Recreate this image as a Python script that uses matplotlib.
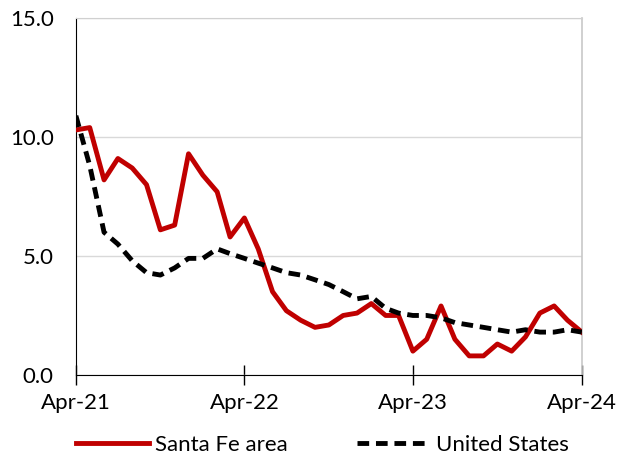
import matplotlib
matplotlib.use("Agg")
import matplotlib.pyplot as plt
import matplotlib.dates as mdates
import pandas as pd

months = pd.date_range("2021-04-01", "2024-04-01", freq="MS")

santa_fe = [10.3, 10.4, 8.2, 9.1, 8.7, 8.0, 6.1, 6.3, 9.3, 8.4, 7.7, 5.8,
            6.6, 5.3, 3.5, 2.7, 2.3, 2.0, 2.1, 2.5, 2.6, 3.0, 2.5, 2.5,
            1.0, 1.5, 2.9, 1.5, 0.8, 0.8, 1.3, 1.0, 1.6, 2.6, 2.9, 2.3,
            1.8]
united_states = [10.9, 8.8, 6.0, 5.5, 4.8, 4.3, 4.2, 4.5, 4.9, 4.9, 5.3, 5.1,
                 4.9, 4.7, 4.5, 4.3, 4.2, 4.0, 3.8, 3.5, 3.2, 3.3, 2.8, 2.6,
                 2.5, 2.5, 2.4, 2.2, 2.1, 2.0, 1.9, 1.8, 1.9, 1.8, 1.8, 1.9,
                 1.8]

y_ticks = [0, 5, 10, 15]
x_ticks = pd.to_datetime(["2021-04-01", "2022-04-01", "2023-04-01", "2024-04-01"])

plt.rcParams["font.family"] = ["Lato", "DejaVu Sans"]

fig = plt.figure(figsize=(6.17, 4.55), dpi=100)
ax = fig.add_axes([0.123, 0.176, 0.820, 0.784])

ax.plot(months, santa_fe, color="#c00000", lw=3.5, label="Santa Fe area", zorder=3)
ax.plot(months, united_states, color="black", lw=3.5, ls=(0, (2.4, 1.4)),
        label="United States", zorder=4)

ax.set_ylim(0, 15)
ax.set_yticks(y_ticks)
ax.set_yticklabels([f"{v:.1f}" for v in y_ticks])
ax.set_xlim(months[0], months[-1])
ax.set_xticks(x_ticks)
ax.xaxis.set_major_formatter(mdates.DateFormatter("%b-%y"))

# light gray plot-area border on top/right, black axes on left/bottom
ax.grid(axis="y", color="#d9d9d9", lw=1)
ax.set_axisbelow(True)
ax.spines["top"].set_color("#d0d0d0")
ax.spines["right"].set_color("#c8c8c8")
ax.spines["right"].set_linewidth(1.2)
ax.spines["left"].set_color("black")
ax.spines["bottom"].set_color("black")
ax.tick_params(axis="y", length=0, labelsize=16, pad=16)
ax.tick_params(axis="x", direction="inout", length=14, width=1, labelsize=16, pad=6)

ax.legend(loc="center", bbox_to_anchor=(0.487, -0.196), ncol=2, frameon=False,
          fontsize=16, handlelength=3.3, handletextpad=0.25, columnspacing=3.1)

fig.savefig("out.png", dpi=100)
